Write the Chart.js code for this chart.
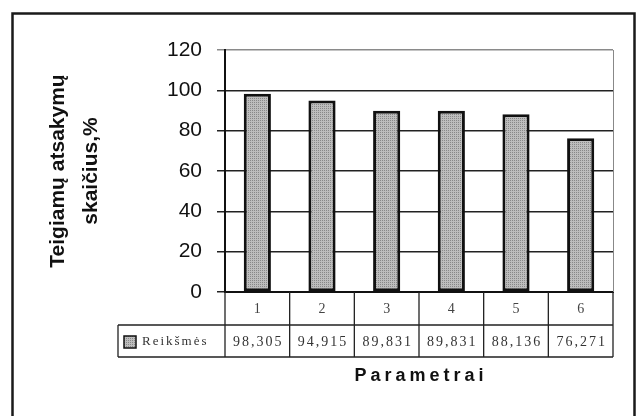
<!DOCTYPE html>
<html>
<head>
<meta charset="utf-8">
<script src="https://cdn.jsdelivr.net/npm/chart.js@4.4.1/dist/chart.umd.min.js"></script>
<style>
html, body { margin: 0; padding: 0; background: #fff; }
#wrap { width: 638px; height: 416px; position: relative; }
</style>
</head>
<body>
<div id="wrap"><canvas id="chart"></canvas></div>
<script>
const categories = ["1", "2", "3", "4", "5", "6"];
const values = [98.305, 94.915, 89.831, 89.831, 88.136, 76.271];
const seriesName = "Reikšmės";
const yTicks = [0, 20, 40, 60, 80, 100, 120];
const yTitle = ["Teigiamų atsakymų", "skaičius,%"];
const xTitle = "Parametrai";

const sans = "'Liberation Sans', Arial, sans-serif";
const serif = "'Liberation Serif', 'Times New Roman', serif";

// stippled grey like the scanned bars
function stipple(ctx) {
    const c = document.createElement("canvas");
    c.width = 2; c.height = 2;
    const g = c.getContext("2d");
    g.fillStyle = "#bdbdbd";
    g.fillRect(0, 0, 2, 2);
    g.fillStyle = "#888";
    g.fillRect(0, 0, 1, 1);
    return ctx.createPattern(c, "repeat");
}

const canvas = document.getElementById("chart");
const barFill = stipple(canvas.getContext("2d"));

/* ===============================
   frame, titles and data table
=============================== */

const tablePlugin = {
    id: "table",
    afterDraw(chart) {
        const ctx = chart.ctx;
        const area = chart.chartArea;
        const x = chart.scales.x;

        const catTop = area.bottom;
        const catBottom = catTop + 33;
        const valBottom = catBottom + 32;
        const legendLeft = 118;

        ctx.save();

        // right edge of the plot
        ctx.strokeStyle = "#888";
        ctx.lineWidth = 1;
        ctx.beginPath();
        ctx.moveTo(area.right + 0.5, area.top);
        ctx.lineTo(area.right + 0.5, area.bottom);
        ctx.stroke();

        // table lines
        ctx.strokeStyle = "#222";
        ctx.lineWidth = 1.3;
        ctx.beginPath();
        ctx.moveTo(legendLeft, catBottom);
        ctx.lineTo(area.right, catBottom);
        ctx.moveTo(legendLeft, valBottom);
        ctx.lineTo(area.right, valBottom);
        ctx.moveTo(legendLeft, catBottom);
        ctx.lineTo(legendLeft, valBottom);
        for (let i = 0; i <= categories.length; i++) {
            const px = x.getPixelForValue(i - 0.5);
            ctx.moveTo(px, catTop);
            ctx.lineTo(px, valBottom);
        }
        ctx.stroke();

        // values row
        ctx.fillStyle = "#333";
        ctx.font = "14px " + serif;
        ctx.letterSpacing = "2px";
        ctx.textAlign = "center";
        ctx.textBaseline = "middle";
        const midVal = (catBottom + valBottom) / 2 + 1;
        values.forEach((v, i) => {
            ctx.fillText(v.toFixed(3).replace(".", ","), x.getPixelForValue(i) + 1, midVal);
        });

        // legend key
        ctx.fillStyle = barFill;
        ctx.fillRect(124, midVal - 6, 12, 12);
        ctx.strokeStyle = "#111";
        ctx.lineWidth = 1.5;
        ctx.strokeRect(124, midVal - 6, 12, 12);
        ctx.fillStyle = "#333";
        ctx.font = "13px " + serif;
        ctx.textAlign = "left";
        ctx.fillText(seriesName, 142, midVal);

        // axis titles
        ctx.fillStyle = "#111";
        ctx.font = "bold 18px " + sans;
        ctx.letterSpacing = "4px";
        ctx.textAlign = "center";
        ctx.fillText(xTitle, (area.left + area.right) / 2 + 2, 376);

        ctx.letterSpacing = "0px";
        ctx.font = "bold 21px " + sans;
        ctx.textBaseline = "alphabetic";
        ctx.translate(64, (area.top + area.bottom) / 2);
        ctx.rotate(-Math.PI / 2);
        ctx.fillText(yTitle[0], 0, 0);
        ctx.fillText(yTitle[1], 0, 33);
        ctx.restore();

        // outer frame
        ctx.save();
        ctx.strokeStyle = "#1a1a1a";
        ctx.lineWidth = 2.5;
        ctx.strokeRect(12.5, 13.5, 622, 430);
        ctx.restore();
    }
};

new Chart(canvas, {

    type: "bar",

    data: {

        labels: categories,

        datasets: [{

            label: seriesName,

            data: values,

            backgroundColor: barFill,

            borderColor: "#111",

            borderWidth: 3,

            borderSkipped: false,

            barPercentage: 0.42,

            categoryPercentage: 1

        }]

    },

    options: {

        responsive: true,

        maintainAspectRatio: false,

        animation: false,

        layout: {

            padding: { left: 0, right: 25, top: 50, bottom: 0 }

        },

        plugins: {

            legend: { display: false },

            tooltip: { enabled: false }

        },

        scales: {

            x: {

                afterFit: (scale) => { scale.height = 124; },

                grid: { display: false, drawTicks: false },

                border: { display: true, color: "#111", width: 2 },

                ticks: {

                    padding: 9,

                    color: "#444",

                    font: { family: serif, size: 14 }

                }

            },

            y: {

                min: 0,

                max: 120,

                afterFit: (scale) => { scale.width = 225; },

                afterBuildTicks: (scale) => {

                    scale.ticks = yTicks.map(v => ({ value: v }));

                },

                grid: {

                    color: (c) => c.tick && c.tick.value === 120 ? "#8a8a8a" : "#222",

                    lineWidth: 1.5,

                    tickLength: 8

                },

                border: { display: true, color: "#111", width: 2 },

                ticks: {

                    padding: 15,

                    color: "#111",

                    font: { family: sans, size: 21 }

                }

            }

        }

    },

    plugins: [tablePlugin]

});
</script>
</body>
</html>
